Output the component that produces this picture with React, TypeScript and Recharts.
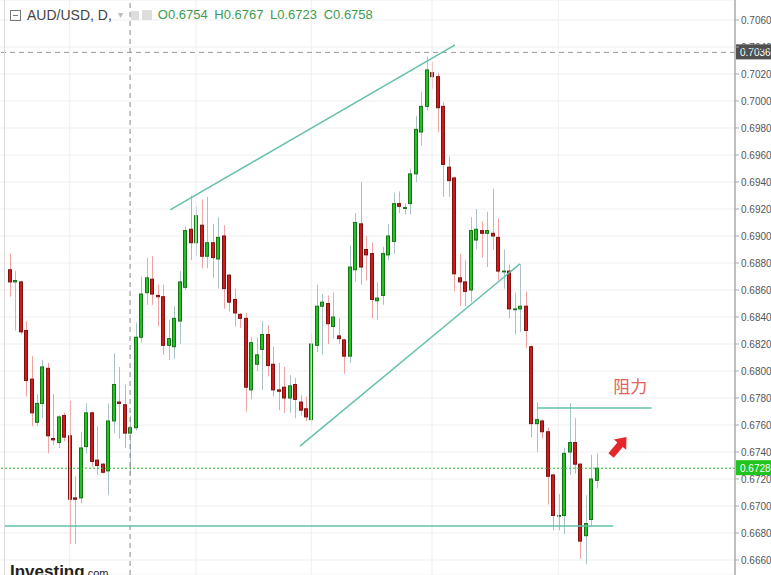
import React from 'react';
import { ComposedChart, Bar, XAxis, YAxis, CartesianGrid, ReferenceLine, ReferenceDot } from 'recharts';

// daily AUD/USD candles, oldest first
const opens = [
  0.6875, 0.6866, 0.6866, 0.6830, 0.6794, 0.6762, 0.6776, 0.6802, 0.6750, 0.6747,
  0.6767, 0.6752, 0.6706, 0.6706, 0.6744, 0.6769, 0.6734, 0.6731, 0.6726, 0.6763,
  0.6777, 0.6775, 0.6754, 0.6758, 0.6825, 0.6858, 0.6868, 0.6856, 0.6855, 0.6819,
  0.6818, 0.6837, 0.6862, 0.6905, 0.6895, 0.6908, 0.6885, 0.6895, 0.6883, 0.6900,
  0.6871, 0.6853, 0.6842, 0.6839, 0.6786, 0.6805, 0.6816, 0.6827, 0.6805, 0.6786,
  0.6788, 0.6780, 0.6790, 0.6777, 0.6772, 0.6764, 0.6819, 0.6848, 0.6850, 0.6833,
  0.6826, 0.6823, 0.6811, 0.6875, 0.6909, 0.6890, 0.6887, 0.6852, 0.6856, 0.6886,
  0.6896, 0.6924, 0.6921, 0.6924, 0.6946, 0.6977, 0.6996, 0.7021, 0.7018, 0.6996,
  0.6951, 0.6943, 0.6869, 0.6866, 0.6860, 0.6897, 0.6904, 0.6902, 0.6902, 0.6899,
  0.6874, 0.6874, 0.6846, 0.6846, 0.6848, 0.6818, 0.6761, 0.6763, 0.6755, 0.6723,
  0.6693, 0.6693, 0.6740, 0.6747, 0.6731, 0.6678, 0.6690, 0.6719,
];
const highs = [
  0.6887, 0.6874, 0.6867, 0.6837, 0.6811, 0.6783, 0.6808, 0.6806, 0.6783, 0.6767,
  0.6769, 0.6778, 0.6722, 0.6755, 0.6776, 0.6770, 0.6759, 0.6732, 0.6776, 0.6813,
  0.6803, 0.6790, 0.6767, 0.6836, 0.6870, 0.6884, 0.6885, 0.6864, 0.6864, 0.6838,
  0.6848, 0.6874, 0.6907, 0.6930, 0.6922, 0.6927, 0.6929, 0.6909, 0.6914, 0.6908,
  0.6872, 0.6861, 0.6843, 0.6843, 0.6825, 0.6825, 0.6837, 0.6834, 0.6818, 0.6806,
  0.6803, 0.6797, 0.6795, 0.6782, 0.6781, 0.6828, 0.6864, 0.6857, 0.6856, 0.6858,
  0.6839, 0.6824, 0.6893, 0.6917, 0.6940, 0.6900, 0.6895, 0.6866, 0.6892, 0.6909,
  0.6932, 0.6933, 0.6924, 0.6950, 0.6989, 0.7007, 0.7033, 0.7029, 0.7021, 0.6999,
  0.6959, 0.6944, 0.6887, 0.6882, 0.6914, 0.6920, 0.6911, 0.6918, 0.6935, 0.6913,
  0.6890, 0.6879, 0.6858, 0.6879, 0.6859, 0.6819, 0.6777, 0.6764, 0.6758, 0.6724,
  0.6709, 0.6743, 0.6776, 0.6765, 0.6732, 0.6708, 0.6738, 0.6739,
];
const lows = [
  0.6855, 0.6830, 0.6827, 0.6781, 0.6759, 0.6759, 0.6765, 0.6739, 0.6745, 0.6743,
  0.6748, 0.6672, 0.6672, 0.6702, 0.6739, 0.6729, 0.6723, 0.6724, 0.6708, 0.6754,
  0.6750, 0.6743, 0.6723, 0.6756, 0.6821, 0.6849, 0.6849, 0.6833, 0.6812, 0.6808,
  0.6809, 0.6820, 0.6860, 0.6882, 0.6885, 0.6876, 0.6876, 0.6869, 0.6861, 0.6846,
  0.6844, 0.6833, 0.6832, 0.6770, 0.6779, 0.6800, 0.6786, 0.6796, 0.6781, 0.6771,
  0.6769, 0.6769, 0.6765, 0.6767, 0.6763, 0.6760, 0.6814, 0.6812, 0.6820, 0.6824,
  0.6820, 0.6798, 0.6806, 0.6866, 0.6864, 0.6867, 0.6839, 0.6838, 0.6849, 0.6882,
  0.6887, 0.6917, 0.6916, 0.6916, 0.6940, 0.6967, 0.6993, 0.7009, 0.6977, 0.6929,
  0.6929, 0.6859, 0.6848, 0.6848, 0.6851, 0.6890, 0.6884, 0.6877, 0.6890, 0.6867,
  0.6861, 0.6839, 0.6827, 0.6829, 0.6817, 0.6751, 0.6740, 0.6750, 0.6701, 0.6682,
  0.6682, 0.6679, 0.6723, 0.6724, 0.6661, 0.6657, 0.6685, 0.6713,
];
const closes = [
  0.6866, 0.6867, 0.6829, 0.6793, 0.6769, 0.6776, 0.6803, 0.6752, 0.6749, 0.6766,
  0.6751, 0.6705, 0.6705, 0.6743, 0.6769, 0.6733, 0.6730, 0.6725, 0.6763, 0.6790,
  0.6776, 0.6754, 0.6758, 0.6825, 0.6857, 0.6869, 0.6857, 0.6855, 0.6819, 0.6824,
  0.6839, 0.6866, 0.6904, 0.6895, 0.6915, 0.6885, 0.6895, 0.6884, 0.6899, 0.6861,
  0.6851, 0.6843, 0.6839, 0.6788, 0.6821, 0.6812, 0.6827, 0.6804, 0.6786, 0.6785,
  0.6780, 0.6789, 0.6779, 0.6771, 0.6766, 0.6820, 0.6848, 0.6851, 0.6835, 0.6840,
  0.6824, 0.6811, 0.6877, 0.6910, 0.6877, 0.6886, 0.6853, 0.6854, 0.6887, 0.6900,
  0.6924, 0.6922, 0.6921, 0.6946, 0.6979, 0.6996, 0.7023, 0.7018, 0.6995, 0.6953,
  0.6941, 0.6872, 0.6866, 0.6859, 0.6904, 0.6905, 0.6902, 0.6904, 0.6900, 0.6874,
  0.6874, 0.6846, 0.6846, 0.6848, 0.6830, 0.6761, 0.6764, 0.6755, 0.6722, 0.6693,
  0.6693, 0.6739, 0.6747, 0.6731, 0.6674, 0.6687, 0.6720, 0.6728,
];

const priceTicks = [
  0.666, 0.668, 0.670, 0.672, 0.674, 0.676, 0.678, 0.680, 0.682, 0.684, 0.686,
  0.688, 0.690, 0.692, 0.694, 0.696, 0.698, 0.700, 0.702, 0.704, 0.706,
];
const monthStarts = [11, 34, 55, 77, 100];
const crossBar = 22;
const crossPrice = 0.7036;
const lastPrice = 0.6728;

// drawn lines, in (bar index, price)
const channelTop = [{ x: 29.3, y: 0.69193 }, { x: 81.2, y: 0.70415 }];
const channelBottom = [{ x: 52.95, y: 0.67444 }, { x: 93.0, y: 0.68793 }];
const supportLine = [{ x: -0.8, y: 0.66852 }, { x: 110.0, y: 0.66852 }];
const resistanceLine = [{ x: 96.1, y: 0.67726 }, { x: 117.0, y: 0.67726 }];
const resistanceLabel = { x: 113.1, y: 0.67896, text: '阻力' };
const arrowPos = { x: 110.9, y: 0.67437 };

const candles = opens.map((o, i) => ({
  i,
  o,
  h: highs[i],
  l: lows[i],
  c: closes[i],
  range: [lows[i], highs[i]],
}));

const FONT = '"Liberation Sans", Arial, sans-serif';
const LINE = '#62c0ad';

const Candle = (props: any) => {
  const { x, y, width, height, payload } = props;
  if (!payload) return null;
  const { o, h, l, c } = payload;
  const span = h - l || 1e-9;
  const py = (v: number) => y + ((h - v) / span) * height;
  const up = c >= o;
  const cx = Math.round(x + width / 2) + 0.5;
  const top = py(Math.max(o, c));
  const bot = py(Math.min(o, c));
  return (
    <g>
      <line x1={cx} x2={cx} y1={y} y2={y + height} stroke={up ? '#a9c3c7' : '#f1a3a3'} strokeWidth={1} />
      <rect
        x={cx - 2}
        y={top}
        width={3}
        height={Math.max(bot - top, 0.8)}
        fill={up ? '#22c222' : '#d01919'}
        stroke={up ? '#177317' : '#7c1212'}
        strokeWidth={1}
      />
    </g>
  );
};

const priceTag = (bg: string, text: string) => (props: any) => {
  const vb = props.viewBox;
  if (!vb) return null;
  const x = vb.x + vb.width;
  const y = vb.y;
  return (
    <g>
      <rect x={x + 1} y={y - 8} width={35} height={15} fill={bg} />
      <text x={x + 5} y={y + 3.5} fill="#fff" fontSize={10} fontFamily={FONT}>{text}</text>
    </g>
  );
};

const Arrow = (props: any) => {
  const { cx, cy } = props;
  return (
    <polygon
      transform={`translate(${cx},${cy}) rotate(40)`}
      points="0,-13 8,-3 3.5,-3 3.5,11 -3.5,11 -3.5,-3 -8,-3"
      fill="#e5262a"
    />
  );
};

const Label = (props: any) => {
  const { cx, cy } = props;
  return (
    <text x={cx} y={cy} textAnchor="middle" dominantBaseline="central" fill="#e4615c" fontSize={17}
      fontFamily='"Noto Sans CJK SC", sans-serif'>
      {resistanceLabel.text}
    </text>
  );
};

export default function App() {
  return (
    <div style={{ position: 'absolute', left: 0, top: 0, width: 771, height: 575, overflow: 'hidden', background: '#fff', fontFamily: FONT }}>
      <ComposedChart width={771} height={575} data={candles} margin={{ top: 0, right: 0, bottom: 0, left: 0 }}>
        <CartesianGrid vertical={false} stroke="#efefef" />
        <XAxis dataKey="i" type="number" domain={[-1.694, 132.19]} allowDataOverflow hide />
        <YAxis
          orientation="right"
          type="number"
          domain={[0.66489, 0.70748]}
          allowDataOverflow
          ticks={priceTicks}
          interval={0}
          width={36}
          tickSize={4}
          tickMargin={2}
          tickFormatter={(v: number) => v.toFixed(4)}
          tick={{ fontSize: 10, fill: '#555', fontFamily: FONT }}
          axisLine={{ stroke: '#aaa', strokeWidth: 1.5 }}
          tickLine={{ stroke: '#aaa' }}
        />
        {monthStarts.map((m) => (
          <ReferenceLine key={m} x={m} stroke="#efefef" />
        ))}
        <ReferenceLine x={crossBar} stroke="#888" strokeDasharray="5 4" />
        <ReferenceLine y={crossPrice} stroke="#999" strokeDasharray="5 4" label={priceTag('#4f4f4f', crossPrice.toFixed(4))} />
        <ReferenceLine y={lastPrice} stroke="#27b827" strokeDasharray="2 2" label={priceTag('#1fc41f', lastPrice.toFixed(4))} />
        <Bar dataKey="range" barSize={4} shape={Candle} isAnimationActive={false} />
        <ReferenceLine segment={channelTop} stroke={LINE} strokeWidth={1.5} />
        <ReferenceLine segment={channelBottom} stroke={LINE} strokeWidth={1.5} />
        <ReferenceLine segment={supportLine} stroke={LINE} strokeWidth={1.5} />
        <ReferenceLine segment={resistanceLine} stroke={LINE} strokeWidth={1.5} />
        <ReferenceDot x={resistanceLabel.x} y={resistanceLabel.y} r={0} shape={Label} />
        <ReferenceDot x={arrowPos.x} y={arrowPos.y} r={0} shape={Arrow} />
      </ComposedChart>

      <div style={{ position: 'absolute', left: 4, top: 0, width: 1, height: 575, background: '#dcdcdc' }} />
      <div style={{ position: 'absolute', left: 10, top: 7, display: 'flex', alignItems: 'center', fontSize: 14, lineHeight: '16px', whiteSpace: 'nowrap' }}>
        <span style={{ width: 9, height: 9, border: '1px solid #777', position: 'relative', marginRight: 6, display: 'inline-block' }}>
          <span style={{ position: 'absolute', left: 2, right: 2, top: 4, height: 1, background: '#777' }} />
        </span>
        <span style={{ color: '#444' }}>AUD/USD, D,</span>
        <span style={{ color: '#bbb', fontSize: 10, marginLeft: 6 }}>▾</span>
        <span style={{ width: 8, height: 9, background: '#ddd', marginLeft: 8, display: 'inline-block' }} />
        <span style={{ width: 10, height: 10, background: '#ddd', marginLeft: 3, display: 'inline-block' }} />
        <span style={{ color: '#3d9b4f', marginLeft: 6, fontSize: 13, wordSpacing: 3 }}>O0.6754 H0.6767 L0.6723 C0.6758</span>
      </div>
      <div style={{ position: 'absolute', left: 10, top: 562, fontSize: 17, fontWeight: 'bold', color: '#222', whiteSpace: 'nowrap' }}>
        Investing<span style={{ fontSize: 11, fontWeight: 'normal' }}>.com</span>
      </div>
    </div>
  );
}
